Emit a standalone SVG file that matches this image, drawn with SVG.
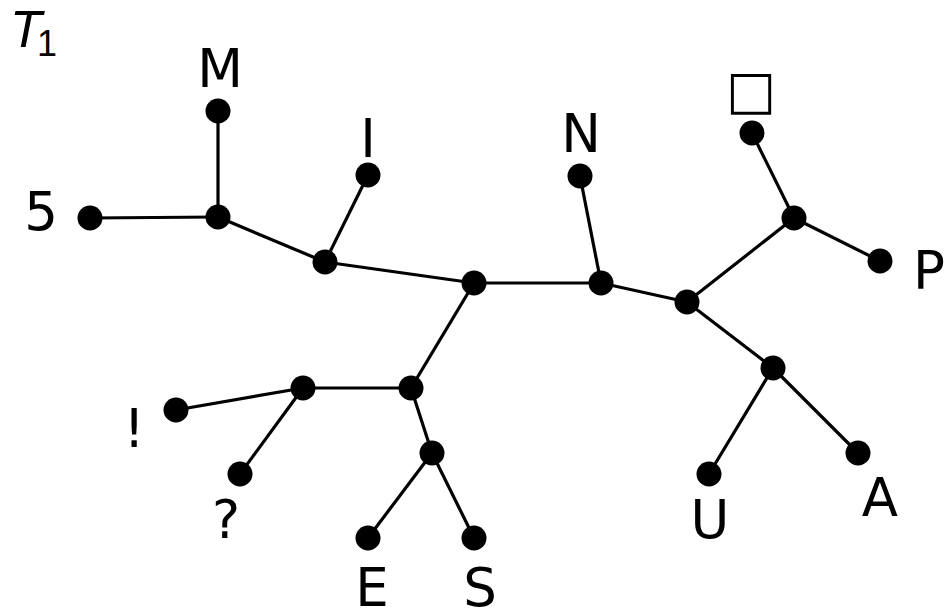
<svg xmlns="http://www.w3.org/2000/svg" width="944" height="616" viewBox="0 0 944 616">
<style>
.e{stroke:#000;stroke-width:3.2;fill:none}
.n{fill:#000}
.t{font-family:"DejaVu Sans",sans-serif;font-size:53px;fill:#000;text-anchor:middle}
</style>
<rect width="944" height="616" fill="#fff"/>
<g id="connectors">
<line class="e" x1="218" y1="111" x2="218" y2="217"/>
<line class="e" x1="90" y1="218" x2="218" y2="217"/>
<line class="e" x1="218" y1="217" x2="325" y2="262"/>
<line class="e" x1="368" y1="175" x2="325" y2="262"/>
<line class="e" x1="325" y1="262" x2="474" y2="283"/>
<line class="e" x1="474" y1="283" x2="601" y2="283"/>
<line class="e" x1="580" y1="176" x2="601" y2="283"/>
<line class="e" x1="601" y1="283" x2="687" y2="302"/>
<line class="e" x1="687" y1="302" x2="794" y2="218"/>
<line class="e" x1="752" y1="133" x2="794" y2="218"/>
<line class="e" x1="794" y1="218" x2="880" y2="261"/>
<line class="e" x1="687" y1="302" x2="773" y2="368"/>
<line class="e" x1="773" y1="368" x2="709" y2="474"/>
<line class="e" x1="773" y1="368" x2="858" y2="453"/>
<line class="e" x1="474" y1="283" x2="411" y2="388"/>
<line class="e" x1="411" y1="388" x2="303" y2="388"/>
<line class="e" x1="303" y1="388" x2="176" y2="410"/>
<line class="e" x1="303" y1="388" x2="240" y2="474"/>
<line class="e" x1="411" y1="388" x2="432" y2="453"/>
<line class="e" x1="432" y1="453" x2="368" y2="538"/>
<line class="e" x1="432" y1="453" x2="474" y2="538"/>
</g>
<g id="junctions">
<circle class="n" cx="218" cy="217" r="12.5"/>
<circle class="n" cx="325" cy="262" r="12.5"/>
<circle class="n" cx="474" cy="283" r="12.5"/>
<circle class="n" cx="601" cy="283" r="12.5"/>
<circle class="n" cx="687" cy="302" r="12.5"/>
<circle class="n" cx="794" cy="218" r="12.5"/>
<circle class="n" cx="773" cy="368" r="12.5"/>
<circle class="n" cx="411" cy="388" r="12.5"/>
<circle class="n" cx="303" cy="388" r="12.5"/>
<circle class="n" cx="432" cy="453" r="12.5"/>
</g>
<g id="leaf-M"><circle class="n" cx="218" cy="111" r="12.5"/><text class="t" x="220" y="87">M</text></g>
<g id="leaf-5"><circle class="n" cx="90" cy="218" r="12.5"/><text class="t" x="41" y="230">5</text></g>
<g id="leaf-I"><circle class="n" cx="368" cy="175" r="12.5"/><text class="t" x="368" y="157">I</text></g>
<g id="leaf-N"><circle class="n" cx="580" cy="176" r="12.5"/><text class="t" x="581" y="152">N</text></g>
<g id="leaf-square"><circle class="n" cx="752" cy="133" r="12.5"/><text class="t" x="751" y="108">□</text></g>
<g id="leaf-P"><circle class="n" cx="880" cy="261" r="12.5"/><text class="t" x="929" y="289">P</text></g>
<g id="leaf-A"><circle class="n" cx="858" cy="453" r="12.5"/><text class="t" x="880" y="516">A</text></g>
<g id="leaf-U"><circle class="n" cx="709" cy="474" r="12.5"/><text class="t" x="710" y="538">U</text></g>
<g id="leaf-excl"><circle class="n" cx="176" cy="410" r="12.5"/><text class="t" x="134" y="447">!</text></g>
<g id="leaf-q"><circle class="n" cx="240" cy="474" r="12.5"/><text class="t" x="226" y="538">?</text></g>
<g id="leaf-E"><circle class="n" cx="368" cy="538" r="12.5"/><text class="t" x="372" y="606">E</text></g>
<g id="leaf-S"><circle class="n" cx="474" cy="538" r="12.5"/><text class="t" x="480" y="606">S</text></g>
<g id="title"><text x="10" y="47" style="font-family:'Liberation Sans',sans-serif;font-size:52px;font-style:italic">T</text><text x="37" y="56" style="font-family:'Liberation Sans',sans-serif;font-size:36px">1</text></g>
</svg>
